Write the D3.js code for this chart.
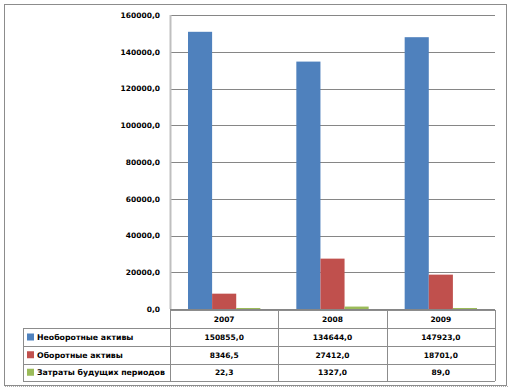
<!DOCTYPE html>
<html>
<head>
<meta charset="utf-8">
<script src="https://cdn.jsdelivr.net/npm/d3@7"></script>
<style>
  body { margin: 0; background: #fff; }
  text { font-family: "DejaVu Sans", Verdana, sans-serif; font-weight: bold; fill: #000; }
</style>
</head>
<body>
<div id="chart-area"></div>
<script>
var years = ["2007", "2008", "2009"];
var seriesNames = ["Необоротные активы", "Оборотные активы", "Затраты будущих периодов"];
var nonCurrent = [150855.0, 134644.0, 147923.0];
var current = [8346.5, 27412.0, 18701.0];
var deferred = [22.3, 1327.0, 89.0];
var yTicks = [0, 20000, 40000, 60000, 80000, 100000, 120000, 140000, 160000];
var colors = ["#4f81bd", "#c0504d", "#9bbb59"];

var series = [nonCurrent, current, deferred];
var fmt = function(v) { return v.toFixed(1).replace(".", ","); };

var W = 512, H = 391;
var plot = { left: 170, right: 495, top: 15, bottom: 309 };

var svg = d3.select("#chart-area")
        .append("svg")
                .attr("width", W)
                .attr("height", H);

// outer frame
svg.append("rect")
        .attr("x", 4.5).attr("y", 4.5)
        .attr("width", 502).attr("height", 381)
        .attr("fill", "#fff")
        .attr("stroke", "#8c8c8c");
svg.append("line")
        .attr("x1", 5).attr("x2", 508)
        .attr("y1", 386.5).attr("y2", 386.5)
        .attr("stroke", "#b0b0b0")
        .attr("stroke-dasharray", "1,1");

var x = d3.scaleBand()
        .domain(years)
        .range([plot.left, plot.right]);

var x1 = d3.scaleBand()
        .domain(d3.range(series.length))
        .range([18, x.bandwidth() - 18]);

var y = d3.scaleLinear()
        .domain([0, 160000])
        .range([plot.bottom, plot.top]);

// gridlines
svg.append("g")
        .selectAll("line")
        .data(yTicks)
        .enter()
        .append("line")
        .attr("x1", plot.left)
        .attr("x2", plot.right)
        .attr("y1", d => Math.round(y(d)) + 0.5)
        .attr("y2", d => Math.round(y(d)) + 0.5)
        .attr("stroke", "#868686");

// y axis labels
var yAxisCall = d3.axisLeft(y)
        .tickValues(yTicks)
        .tickSize(0)
        .tickPadding(10)
        .tickFormat(fmt);
var yAxis = svg.append("g")
        .attr("class", "y-axis")
        .attr("transform", "translate(" + plot.left + ",0)")
        .call(yAxisCall);
yAxis.select(".domain").remove();
yAxis.selectAll("text")
        .attr("font-size", "7.5px")
        .attr("font-family", "DejaVu Sans")
        .attr("font-weight", "bold");

// bars
series.forEach(function(vals, si) {
        svg.append("g")
                .selectAll("rect")
                .data(vals)
                .enter()
                .append("rect")
                .attr("x", (d, i) => x(years[i]) + x1(si))
                .attr("y", d => Math.min(y(d), plot.bottom - 1))
                .attr("width", x1.bandwidth())
                .attr("height", d => Math.max(plot.bottom - y(d), 1))
                .attr("fill", colors[si]);
});

// axis line
svg.append("line")
        .attr("x1", plot.left + 0.5).attr("x2", plot.left + 0.5)
        .attr("y1", plot.top).attr("y2", plot.bottom)
        .attr("stroke", "#bfbfbf")
        .attr("stroke-width", 2);

// data table
var rowTop = [310, 328, 346, 363.5, 381];
var tableLeft = 23;
var border = "#8c8c8c";
var tbl = svg.append("g").attr("class", "data-table");

// horizontal lines
tbl.append("line")
        .attr("x1", plot.left).attr("x2", plot.right)
        .attr("y1", rowTop[0] + 0.5).attr("y2", rowTop[0] + 0.5)
        .attr("stroke", border);
rowTop.slice(1).forEach(function(ry) {
        tbl.append("line")
                .attr("x1", tableLeft).attr("x2", plot.right)
                .attr("y1", Math.round(ry) + 0.5).attr("y2", Math.round(ry) + 0.5)
                .attr("stroke", border);
});
// vertical lines
tbl.append("line")
        .attr("x1", tableLeft + 0.5).attr("x2", tableLeft + 0.5)
        .attr("y1", rowTop[1]).attr("y2", rowTop[4])
        .attr("stroke", border);
years.forEach(function(yr) {
        var xx = Math.round(x(yr)) + 0.5;
        tbl.append("line")
                .attr("x1", xx).attr("x2", xx)
                .attr("y1", rowTop[0]).attr("y2", rowTop[4])
                .attr("stroke", border);
});
tbl.append("line")
        .attr("x1", plot.right + 0.5).attr("x2", plot.right + 0.5)
        .attr("y1", rowTop[0]).attr("y2", rowTop[4])
        .attr("stroke", border);

// year header
tbl.selectAll(".yr")
        .data(years)
        .enter()
        .append("text")
        .attr("class", "yr")
        .attr("x", d => x(d) + x.bandwidth() / 2)
        .attr("y", (rowTop[0] + rowTop[1]) / 2 + 3)
        .attr("text-anchor", "middle")
        .attr("font-size", "7.5px")
        .text(d => d);

// series rows
series.forEach(function(vals, si) {
        var cy = (rowTop[si + 1] + rowTop[si + 2]) / 2;
        tbl.append("rect")
                .attr("x", 27).attr("y", cy - 3.5)
                .attr("width", 7).attr("height", 7)
                .attr("fill", colors[si]);
        tbl.append("text")
                .attr("x", 37)
                .attr("y", cy + 3)
                .attr("font-size", "7.8px")
                .text(seriesNames[si]);
        tbl.selectAll(".v" + si)
                .data(vals)
                .enter()
                .append("text")
                .attr("x", (d, i) => x(years[i]) + x.bandwidth() / 2)
                .attr("y", cy + 3)
                .attr("text-anchor", "middle")
                .attr("font-size", "7.5px")
                .text(fmt);
});
</script>
</body>
</html>
